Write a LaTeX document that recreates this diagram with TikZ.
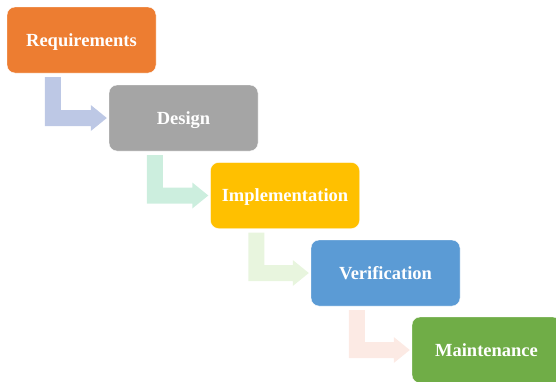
\documentclass[tikz,border=0pt]{standalone}
\usepackage{fontspec}
\setmainfont{Liberation Serif}
\usetikzlibrary{calc}
\definecolor{cOrange}{HTML}{ED7D31}
\definecolor{cGray}{HTML}{A5A5A5}
\definecolor{cGold}{HTML}{FFC000}
\definecolor{cBlue}{HTML}{5B9BD5}
\definecolor{cGreen}{HTML}{70AD47}
\definecolor{aOne}{HTML}{BDC8E5}
\definecolor{aTwo}{HTML}{CCEEDE}
\definecolor{aThree}{HTML}{E8F5DE}
\definecolor{aFour}{HTML}{FCEAE4}
\newcommand\bentarr[3]{%
  \fill[#1] let \p1=(#2.south west), \p2=(#3.west) in
    (\x1+38pt,\y1-4pt) -- (\x1+54pt,\y1-4pt) -- (\x1+54pt,\y2+8pt)
    -- (\x2-18pt,\y2+8pt) -- (\x2-18pt,\y2+13pt) -- (\x2-2pt,\y2)
    -- (\x2-18pt,\y2-13pt) -- (\x2-18pt,\y2-8pt) -- (\x1+38pt,\y2-8pt) -- cycle;}
\begin{document}
\begin{tikzpicture}[x=1pt,y=-1pt,
  stage/.style={fill=#1, draw=white, line width=0.4pt, rounded corners=8pt,
    minimum width=149pt, minimum height=66pt, inner sep=0pt,
    text height=12pt, text depth=0pt,
    text=white, font=\bfseries\fontsize{18.5}{20}\selectfont}]
\useasboundingbox (0,0) rectangle (556,381);
\node[stage=cOrange] (req) at (81.5,40) {Requirements};
\node[stage=cGray] (des) at (183.5,118) {Design};
\node[stage=cGold] (imp) at (285,195.5) {Implementation};
\node[stage=cBlue] (ver) at (385.5,273) {Verification};
\node[stage=cGreen] (mai) at (486.5,350) {Maintenance};
\bentarr{aOne}{req}{des}
\bentarr{aTwo}{des}{imp}
\bentarr{aThree}{imp}{ver}
\bentarr{aFour}{ver}{mai}
\end{tikzpicture}
\end{document}
